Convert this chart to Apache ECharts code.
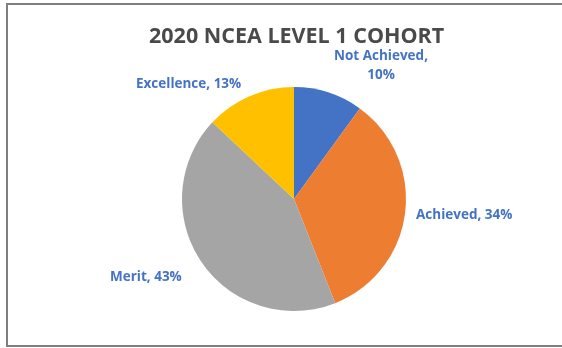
<!DOCTYPE html>
<html>
<head>
<meta charset="utf-8">
<script src="https://cdn.jsdelivr.net/npm/echarts@6/dist/echarts.min.js"></script>
<style>
  html, body { margin: 0; padding: 0; background: #ffffff; }
  #chart { width: 562px; height: 348px; }
</style>
</head>
<body>
<div id="chart"></div>
<script>
// Level 1 results for the 2020 cohort (percent of students)
const categories = ['Not Achieved', 'Achieved', 'Merit', 'Excellence'];
const shares = [10, 34, 43, 13];
const sliceColors = ['#4472c4', '#ed7d31', '#a5a5a5', '#ffc000'];

// Where each slice's caption sits
const labelSpots = [
  { x: 381, y: 66, align: 'center' },
  { x: 416, y: 215, align: 'left' },
  { x: 110, y: 277, align: 'left' },
  { x: 136, y: 84, align: 'left' }
];

const chart = echarts.init(document.getElementById('chart'), null, { renderer: 'canvas' });

const labelFont = '"Open Sans", "Noto Sans", sans-serif';

chart.setOption({
  backgroundColor: '#ffffff',
  animation: false,
  title: {
    text: '2020 NCEA LEVEL 1 COHORT',
    left: 144,
    top: 21,
    textStyle: {
      fontFamily: labelFont,
      fontWeight: 'bold',
      fontSize: 21.5,
      color: '#4a4a4a'
    }
  },
  graphic: [{
    type: 'rect',
    shape: { x: 7, y: 4, width: 570, height: 342 },
    style: { fill: 'none', stroke: '#7f7f7f', lineWidth: 2 },
    silent: true
  }],
  series: [{
    type: 'pie',
    center: [294, 199],
    radius: 112,
    startAngle: 90,
    clockwise: true,
    data: categories.map((name, i) => ({
      name: name,
      value: shares[i],
      itemStyle: { color: sliceColors[i] }
    })),
    label: {
      show: true,
      position: 'outside',
      formatter: p => p.dataIndex === 0 ? p.name + ',\n' + p.value + '%' : p.name + ', ' + p.value + '%',
      fontFamily: labelFont,
      fontWeight: 'bold',
      fontSize: 13.5,
      color: '#4472c4',
      lineHeight: 19
    },
    labelLine: { show: false },
    labelLayout: function (params) {
      const s = labelSpots[params.dataIndex];
      return { x: s.x, y: s.y, align: s.align, verticalAlign: 'middle' };
    },
    itemStyle: { borderWidth: 0 }
  }]
});
</script>
</body>
</html>
